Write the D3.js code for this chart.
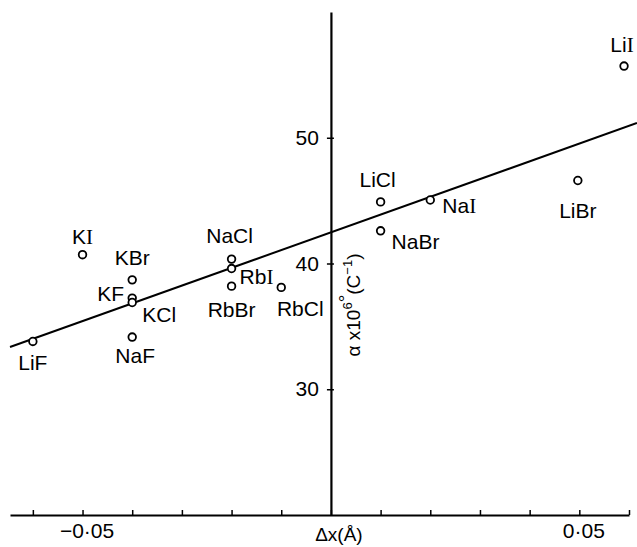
<!DOCTYPE html>
<html><head><meta charset="utf-8">
<script src="https://cdn.jsdelivr.net/npm/d3@7"></script>
<style>
html,body{margin:0;padding:0;background:#fff;}
svg{display:block;font-family:"Liberation Sans",Arial,Helvetica,sans-serif;}
</style></head>
<body>
<script>
// ---- data ----
const salts  = ["LiF","KI","KBr","KF","KCl","NaF","NaCl","RbI","RbBr","RbCl","LiCl","NaBr","NaI","LiBr","LiI"];
const deltaX = [-0.060,-0.050,-0.040,-0.040,-0.040,-0.040,-0.020,-0.020,-0.020,-0.010,0.010,0.010,0.020,0.0497,0.059];
const alpha  = [33.8,40.7,38.7,37.25,36.9,34.15,40.35,39.6,38.2,38.1,44.9,42.6,45.05,46.6,55.7];
const fitX   = [-0.0646,0.0616];
const fitY   = [33.36,51.17];
const xTicks = [-0.06,-0.05,-0.04,-0.03,-0.02,-0.01,0,0.01,0.02,0.03,0.04,0.05,0.06];
const xTickLabels = {"-0.05":"\u22120\u00B705","0.05":"0\u00B705"};
const yTicks = [30,40,50];

// ---- layout (label placement relative to marker) ----
const labelPos = {
  LiF:[0,29,"middle"], KI:[0,-11,"middle"], KBr:[0,-15,"middle"], KF:[-8,3,"end"],
  KCl:[10,20,"start"], NaF:[3,26,"middle"], NaCl:[-2,-16,"middle"], RbI:[8,15,"start"],
  RbBr:[0,31,"middle"], RbCl:[19,29,"middle"], LiCl:[-3,-15,"middle"], NaBr:[11,18,"start"],
  NaI:[12,13,"start"], LiBr:[0,37,"middle"], LiI:[-2,-14,"middle"]
};

const W=637,H=547, FS=21;
const svg=d3.select("body").append("svg").attr("width",W).attr("height",H);
const x=d3.scaleLinear().domain([-0.0646,0.06]).range([10,629]);
const y=d3.scaleLinear().domain([20,60]).range([515,12]);

// x axis
const xAxis=d3.axisBottom(x).tickValues(xTicks).tickSizeInner(-5).tickSizeOuter(0).tickPadding(8)
  .tickFormat(d=>xTickLabels[String(+d.toFixed(2))]||"");
const gx=svg.append("g").attr("transform",`translate(0,${y(20)})`).call(xAxis);
gx.select(".domain").attr("stroke","#000").attr("stroke-width",2);
gx.selectAll(".tick line").attr("stroke","#000").attr("stroke-width",1.5);
gx.selectAll(".tick text").attr("font-size",FS).attr("fill","#000").attr("dx",4)
  .attr("font-family","Liberation Sans, Arial, sans-serif");

// y axis
const yAxis=d3.axisLeft(y).tickValues(yTicks).tickSizeInner(4).tickSizeOuter(0).tickPadding(8);
const gy=svg.append("g").attr("transform",`translate(${x(0)},0)`).call(yAxis);
gy.select(".domain").attr("stroke","#000").attr("stroke-width",2.2);
gy.selectAll(".tick line").attr("stroke","#000").attr("stroke-width",1.5).attr("x1",-4).attr("x2",3);
gy.selectAll(".tick text").attr("font-size",FS).attr("fill","#000").attr("font-family","Liberation Sans, Arial, sans-serif");

// axis titles
svg.append("text").attr("x",x(0)+8).attr("y",541).attr("text-anchor","middle").attr("font-size",19)
  .text("\u0394x(\u00C5)");
const yl=svg.append("text").attr("transform",`translate(${x(0)+29},305) rotate(-90)`)
  .attr("text-anchor","middle").attr("font-size",19);
yl.append("tspan").text("\u03B1 x10");
yl.append("tspan").attr("dy",-8).attr("font-size",13).text("6");
yl.append("tspan").attr("dy",0).text("\u00B0");
yl.append("tspan").attr("dy",8).text("(C");
yl.append("tspan").attr("dy",-8).attr("font-size",13).text("\u22121");
yl.append("tspan").attr("dy",8).text(")");

// fit line
const line=d3.line().x(d=>x(d[0])).y(d=>y(d[1]));
svg.append("path").datum(fitX.map((v,i)=>[v,fitY[i]])).attr("d",line)
  .attr("fill","none").attr("stroke","#000").attr("stroke-width",2);

// points
const pts=salts.map((s,i)=>({name:s,dx:deltaX[i],a:alpha[i]}));
svg.selectAll("circle.pt").data(pts).join("circle").attr("class","pt")
  .attr("cx",d=>x(d.dx)).attr("cy",d=>y(d.a)).attr("r",3.8)
  .attr("fill","#fff").attr("stroke","#000").attr("stroke-width",1.8);

// labels
const lab=svg.selectAll("text.lab").data(pts).join("text").attr("class","lab")
  .attr("x",d=>x(d.dx)+labelPos[d.name][0]).attr("y",d=>y(d.a)+labelPos[d.name][1])
  .attr("text-anchor",d=>labelPos[d.name][2]).attr("font-size",FS).attr("fill","#000");
lab.each(function(d){
  const t=d3.select(this);
  if(d.name.endsWith("I")){
    t.append("tspan").text(d.name.slice(0,-1));
    t.append("tspan").attr("font-family","Liberation Serif, Times New Roman, serif").text("I");
  } else t.text(d.name);
});
</script>
</body></html>
